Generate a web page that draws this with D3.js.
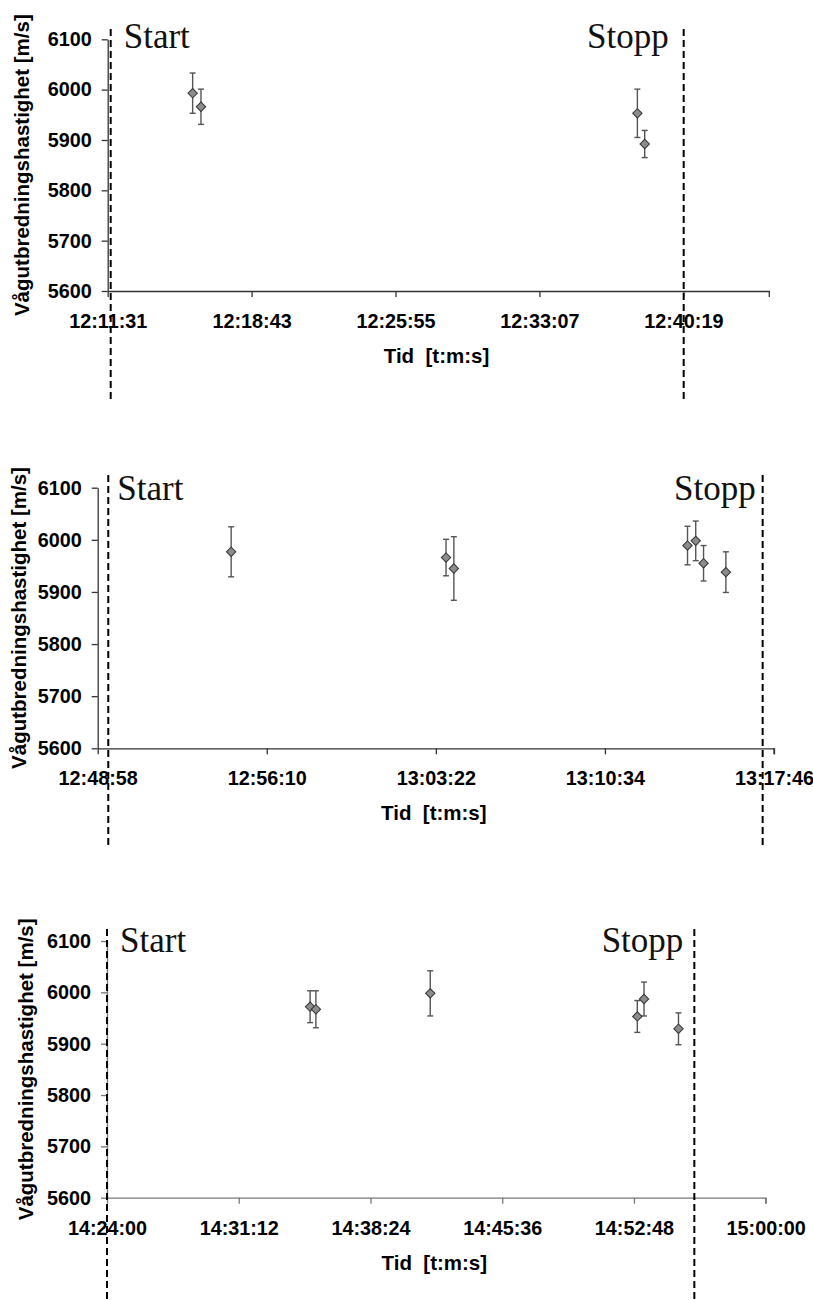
<!DOCTYPE html>
<html>
<head>
<meta charset="utf-8">
<script src="https://cdn.jsdelivr.net/npm/d3@7"></script>
<style>
  body { margin: 0; background: #fff; }
  svg { display: block; }
  .tick text { font-family: "Liberation Sans", Arial, sans-serif; font-weight: bold; font-size: 19.8px; fill: #000; }
  .title { font-family: "Liberation Sans", Arial, sans-serif; font-weight: bold; font-size: 20.5px; white-space: pre; }
  .mark { font-family: "Liberation Serif", "Times New Roman", serif; font-size: 35px; fill: #111; }
</style>
</head>
<body>
<svg id="chart" width="813" height="1300"></svg>
<script>
'use strict';

// shared y axis
const yDomain = [5600, 6100];
const yTicks = [5600, 5700, 5800, 5900, 6000, 6100];

// panel 1
const p1Times = ['12:15:46', '12:16:11', '12:38:01', '12:38:23'];
const p1Values = [5993, 5966, 5953, 5892];
const p1Errors = [40, 35, 48, 27];
const p1Ticks = ['12:11:31', '12:18:43', '12:25:55', '12:33:07', '12:40:19'];
const p1Range = ['12:11:31', '12:44:37'];
const p1StartStop = ['12:11:40', '12:40:20'];

// panel 2
const p2Times = ['12:54:39', '13:03:48', '13:04:08', '13:14:05', '13:14:26', '13:14:46', '13:15:43'];
const p2Values = [5977, 5966, 5945, 5989, 5998, 5955, 5938];
const p2Errors = [48, 35, 61, 37, 38, 34, 39];
const p2Ticks = ['12:48:58', '12:56:10', '13:03:22', '13:10:34', '13:17:46'];
const p2Range = ['12:48:58', '13:17:46'];
const p2StartStop = ['12:49:25', '13:17:17'];

// panel 3
const p3Times = ['14:35:06', '14:35:25', '14:41:40', '14:52:59', '14:53:21', '14:55:14'];
const p3Values = [5972, 5967, 5998, 5953, 5987, 5929];
const p3Errors = [31, 36, 44, 31, 33, 31];
const p3Ticks = ['14:24:00', '14:31:12', '14:38:24', '14:45:36', '14:52:48', '15:00:00'];
const p3Range = ['14:24:00', '15:00:00'];
const p3StartStop = ['14:24:00', '14:56:06'];

const yTitle = 'Vågutbredningshastighet [m/s]';
const xTitle = 'Tid  [t:m:s]';

function secs(t) {
    let p = t.split(':').map(Number);
    return p[0] * 3600 + p[1] * 60 + p[2];
}

function hms(s) {
    let pad = (n) => String(n).padStart(2, '0');
    return pad(Math.floor(s / 3600)) + ':' + pad(Math.floor(s / 60) % 60) + ':' + pad(s % 60);
}

const svg = d3.select('#chart');

function drawPanel(d, box) {
    let x = d3.scaleLinear()
        .domain(d.range.map(secs))
        .range([box.left, box.right]);
    let y = d3.scaleLinear()
        .domain(yDomain)
        .range([box.bottom, box.top]);

    let g = svg.append('g');

    let xAxis = g.append('g')
        .attr('transform', `translate(0,${box.bottom})`)
        .call(d3.axisBottom(x)
            .tickValues(d.ticks.map(secs))
            .tickFormat(hms)
            .tickSize(6)
            .tickSizeOuter(0)
            .tickPadding(17));
    let yAxis = g.append('g')
        .attr('transform', `translate(${box.left},0)`)
        .call(d3.axisLeft(y)
            .tickValues(yTicks)
            .tickFormat(d3.format('d'))
            .tickSize(6)
            .tickSizeOuter(0)
            .tickPadding(10));
    [xAxis, yAxis].forEach(a => {
        a.select('.domain').attr('stroke', box.axis).attr('stroke-width', 1.3);
        a.selectAll('.tick line').attr('stroke', box.axis).attr('stroke-width', 1.3);
    });
    // excel puts an end tick on the right of the x axis
    g.append('line')
        .attr('x1', x.range()[1]).attr('x2', x.range()[1])
        .attr('y1', box.bottom).attr('y2', box.bottom + 6)
        .attr('stroke', box.axis).attr('stroke-width', 1.3);

    g.append('text')
        .attr('class', 'title')
        .attr('x', (box.left + box.right) / 2 - 2)
        .attr('y', box.bottom + 72)
        .attr('text-anchor', 'middle')
        .text(xTitle);

    g.append('text')
        .attr('class', 'title')
        .attr('transform', `translate(${box.yTitleX},${(box.top + box.bottom) / 2}) rotate(-90)`)
        .attr('text-anchor', 'middle')
        .text(yTitle);

    // start / stop lines
    let marks = d.startStop.map(secs);
    g.selectAll('line.limit')
        .data(marks)
        .join('line')
        .attr('class', 'limit')
        .attr('x1', v => x(v)).attr('x2', v => x(v))
        .attr('y1', box.lineTop).attr('y2', box.lineBottom)
        .attr('stroke', '#000')
        .attr('stroke-width', 2)
        .attr('stroke-dasharray', '7,4');

    g.append('text')
        .attr('class', 'mark')
        .attr('x', x(marks[0]) + box.startDx)
        .attr('y', box.top + box.labelDy)
        .text('Start');
    g.append('text')
        .attr('class', 'mark')
        .attr('x', x(marks[1]) - box.stopDx)
        .attr('y', box.top + box.labelDy)
        .attr('text-anchor', 'end')
        .text('Stopp');

    let pts = d.times.map((t, i) => ({ t: secs(t), v: d.values[i], e: d.errors[i] }));

    let bars = g.selectAll('g.err')
        .data(pts)
        .join('g')
        .attr('class', 'err')
        .attr('stroke', '#555')
        .attr('stroke-width', 1.4);
    bars.append('line')
        .attr('x1', p => x(p.t)).attr('x2', p => x(p.t))
        .attr('y1', p => y(p.v + p.e)).attr('y2', p => y(p.v - p.e));
    bars.append('line')
        .attr('x1', p => x(p.t) - 3).attr('x2', p => x(p.t) + 3)
        .attr('y1', p => y(p.v + p.e)).attr('y2', p => y(p.v + p.e));
    bars.append('line')
        .attr('x1', p => x(p.t) - 3).attr('x2', p => x(p.t) + 3)
        .attr('y1', p => y(p.v - p.e)).attr('y2', p => y(p.v - p.e));

    g.selectAll('path.pt')
        .data(pts)
        .join('path')
        .attr('class', 'pt')
        .attr('d', d3.symbol(d3.symbolSquare, 44))
        .attr('transform', p => `translate(${x(p.t)},${y(p.v)}) rotate(45)`)
        .attr('fill', '#8c8c8c')
        .attr('stroke', '#333')
        .attr('stroke-width', 1);
}

drawPanel(
    { times: p1Times, values: p1Values, errors: p1Errors, ticks: p1Ticks, range: p1Range, startStop: p1StartStop },
    { left: 107.7, right: 769.3, top: 39.3, bottom: 291, lineTop: 29, lineBottom: 400,
      yTitleX: 29, axis: '#333', startDx: 13, stopDx: 15, labelDy: 9 });
drawPanel(
    { times: p2Times, values: p2Values, errors: p2Errors, ticks: p2Ticks, range: p2Range, startStop: p2StartStop },
    { left: 97.7, right: 774, top: 487.7, bottom: 748.3, lineTop: 475, lineBottom: 846,
      yTitleX: 26, axis: '#333', startDx: 9, stopDx: 7, labelDy: 12 });
drawPanel(
    { times: p3Times, values: p3Values, errors: p3Errors, ticks: p3Ticks, range: p3Range, startStop: p3StartStop },
    { left: 107, right: 765.7, top: 941, bottom: 1197.7, lineTop: 929, lineBottom: 1300,
      yTitleX: 32.5, axis: '#777', startDx: 13, stopDx: 11, labelDy: 11 });
</script>
</body>
</html>
